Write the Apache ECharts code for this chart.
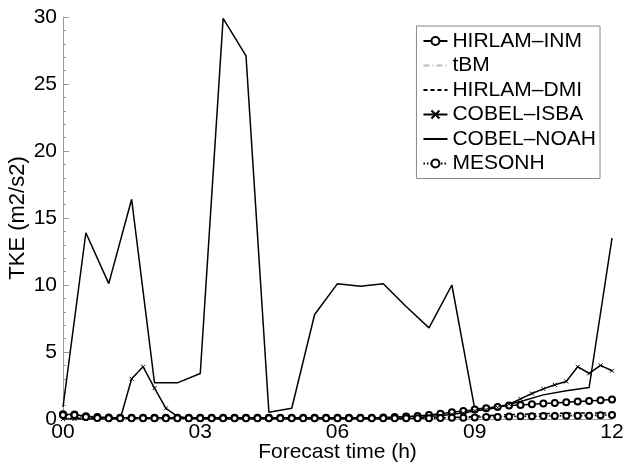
<!DOCTYPE html>
<html>
<head>
<meta charset="utf-8">
<script src="https://cdn.jsdelivr.net/npm/echarts@6/dist/echarts.min.js"></script>
<style>
  html, body { margin: 0; padding: 0; background: #fff; }
  #tke { width: 623px; height: 465px; }
</style>
</head>
<body>
<div id="tke"></div>
<script>
// forecast times (h), every 15 min and every 30 min
var tQuarter = [0, 0.25, 0.5, 0.75, 1, 1.25, 1.5, 1.75, 2, 2.25, 2.5, 2.75, 3, 3.25, 3.5, 3.75,
  4, 4.25, 4.5, 4.75, 5, 5.25, 5.5, 5.75, 6, 6.25, 6.5, 6.75, 7, 7.25, 7.5, 7.75,
  8, 8.25, 8.5, 8.75, 9, 9.25, 9.5, 9.75, 10, 10.25, 10.5, 10.75, 11, 11.25, 11.5, 11.75, 12];
var tHalf = [0, 0.5, 1, 1.5, 2, 2.5, 3, 3.5, 4, 4.5, 5, 5.5, 6, 6.5, 7, 7.5, 8, 8.5, 9, 9.5, 10, 10.5, 11, 11.5, 12];

var xTicks = ['00', '03', '06', '09', '12'];

// TKE values (m2/s2)
var hirlamInm = [0.35, 0.33, 0.2, 0.15, 0.12, 0.1, 0.1, 0.1, 0.1, 0.1, 0.1, 0.1, 0.1, 0.1, 0.1, 0.1,
  0.1, 0.1, 0.1, 0.1, 0.1, 0.1, 0.1, 0.1, 0.1, 0.1, 0.1, 0.1, 0.12, 0.15, 0.18, 0.22,
  0.3, 0.4, 0.5, 0.6, 0.7, 0.8, 0.9, 1.0, 1.05, 1.1, 1.15, 1.2, 1.25, 1.3, 1.35, 1.4, 1.45];
var tbm = [0.1, 0.1, 0.08, 0.06, 0.05, 0.05, 0.05, 0.05, 0.05, 0.05, 0.05, 0.05, 0.05, 0.05, 0.05, 0.05,
  0.05, 0.05, 0.05, 0.05, 0.05, 0.05, 0.05, 0.05, 0.05, 0.05, 0.05, 0.05, 0.05, 0.05, 0.05, 0.05,
  0.06, 0.08, 0.1, 0.12, 0.15, 0.18, 0.2, 0.22, 0.25, 0.27, 0.28, 0.3, 0.3, 0.32, 0.33, 0.34, 0.35];
var hirlamDmi = [0.05, 0.05, 0.05, 0.05, 0.05, 0.05, 0.05, 0.05, 0.05, 0.05, 0.05, 0.05, 0.05, 0.05, 0.05, 0.05,
  0.05, 0.05, 0.05, 0.05, 0.05, 0.05, 0.05, 0.05, 0.05, 0.05, 0.05, 0.05, 0.05, 0.05, 0.05, 0.05,
  0.08, 0.1, 0.12, 0.15, 0.2, 0.25, 0.3, 0.32, 0.35, 0.38, 0.4, 0.42, 0.43, 0.44, 0.45, 0.45, 0.45];
var cobelIsba = [0, 0, 0, 0, 0, 0, 3.0, 3.9, 2.3, 0.8, 0.2, 0.05, 0, 0, 0, 0,
  0, 0, 0, 0, 0, 0, 0, 0, 0, 0, 0, 0, 0, 0, 0, 0.1,
  0.2, 0.25, 0.35, 0.45, 0.6, 0.7, 0.85, 1.1, 1.5, 1.9, 2.25, 2.55, 2.8, 3.9, 3.4, 4.0, 3.6];
var cobelNoah = [0.9, 13.9, 10.1, 16.4, 2.7, 2.7, 3.4, 29.9, 27.1, 0.5, 0.8, 7.8, 10.1,
  9.9, 10.1, 8.4, 6.8, 10.0, 0.75, 0.9, 1.3, 1.8, 2.1, 2.35, 13.5];
var mesonh = [0.3, 0.3, 0.15, 0.08, 0.05, 0.05, 0.05, 0.05, 0.05, 0.05, 0.05, 0.05, 0.05, 0.05, 0.05, 0.05,
  0.05, 0.05, 0.05, 0.05, 0.05, 0.05, 0.05, 0.05, 0.05, 0.05, 0.05, 0.05, 0.05, 0.05, 0.05, 0.05,
  0.06, 0.08, 0.1, 0.1, 0.12, 0.15, 0.15, 0.18, 0.2, 0.2, 0.22, 0.22, 0.25, 0.25, 0.25, 0.28, 0.3];

function pairs(ts, vs) {
  return ts.map(function (t, i) { return [t, vs[i]]; });
}

var crossPath = 'path://M0,0L10,10M10,0L0,10';
var fontName = 'Liberation Sans, Arial, sans-serif';
// legend entries of lines drawn without markers: hide the marker in the key
var noMark = { color: 'rgba(0,0,0,0)', borderWidth: 0 };

var mychart = echarts.init(document.getElementById('tke'));

option = {
  backgroundColor: '#fff',
  animation: false,
  textStyle: { fontFamily: fontName, color: '#000' },
  grid: { left: 63, right: 11, top: 17, bottom: 46, outerBoundsMode: 'none', containLabel: false },
  legend: {
    orient: 'vertical',
    right: 23,
    top: 26,
    padding: [4, 4, 4, 6],
    borderColor: '#888',
    borderWidth: 1,
    backgroundColor: '#fff',
    itemWidth: 24,
    itemHeight: 10,
    itemGap: 2.5,
    data: [
      { name: 'HIRLAM–INM' },
      { name: 'tBM', itemStyle: noMark },
      { name: 'HIRLAM–DMI', itemStyle: noMark },
      { name: 'COBEL–ISBA' },
      { name: 'COBEL–NOAH', itemStyle: noMark },
      { name: 'MESONH' }
    ],
    textStyle: { fontSize: 21, lineHeight: 22, color: '#000', fontFamily: fontName }
  },
  xAxis: {
    type: 'value',
    min: 0,
    max: 12,
    interval: 3,
    name: 'Forecast time (h)',
    nameLocation: 'middle',
    nameGap: 23,
    nameMoveOverlap: false,
    nameTextStyle: { fontSize: 21, color: '#000' },
    axisLine: { lineStyle: { color: '#999' } },
    axisTick: { show: false },
    splitLine: { show: false },
    axisLabel: {
      fontSize: 21,
      color: '#000',
      margin: 3,
      formatter: function (v) { return xTicks[v / 3]; }
    }
  },
  yAxis: {
    type: 'value',
    min: 0,
    max: 30,
    interval: 5,
    name: 'TKE (m2/s2)',
    nameLocation: 'middle',
    nameGap: 34,
    nameMoveOverlap: false,
    nameTextStyle: { fontSize: 22, color: '#000' },
    axisLine: { show: true, lineStyle: { color: '#999' } },
    axisTick: { show: true, inside: true, length: 6, lineStyle: { color: '#999' } },
    minorTick: { show: true, splitNumber: 5, length: 3, lineStyle: { color: '#999' } },
    splitLine: { show: false },
    axisLabel: { fontSize: 21, color: '#000', margin: 6 }
  },
  series: [
    {
      name: 'HIRLAM–INM', type: 'line',
      data: pairs(tQuarter, hirlamInm),
      symbol: 'emptyCircle', symbolSize: 6,
      lineStyle: { color: '#000', width: 1.5 },
      itemStyle: { color: '#000', borderWidth: 1.8 },
      z: 3
    },
    {
      name: 'tBM', type: 'line',
      data: pairs(tQuarter, tbm),
      symbol: 'none',
      lineStyle: { color: '#bbb', width: 1, type: [6, 3, 1, 3] },
      itemStyle: { color: '#bbb' },
      z: 2
    },
    {
      name: 'HIRLAM–DMI', type: 'line',
      data: pairs(tQuarter, hirlamDmi),
      symbol: 'none',
      lineStyle: { color: '#000', width: 1.5, type: [4, 3] },
      itemStyle: { color: '#000' },
      z: 2
    },
    {
      name: 'COBEL–ISBA', type: 'line',
      data: pairs(tQuarter, cobelIsba),
      symbol: crossPath, symbolSize: 4,
      lineStyle: { color: '#000', width: 1.5 },
      itemStyle: { color: '#000', borderColor: '#000', borderWidth: 1 },
      z: 3
    },
    {
      name: 'COBEL–NOAH', type: 'line',
      data: pairs(tHalf, cobelNoah),
      symbol: 'none',
      lineStyle: { color: '#000', width: 1.5 },
      itemStyle: { color: '#000' },
      z: 3
    },
    {
      name: 'MESONH', type: 'line',
      data: pairs(tQuarter, mesonh),
      symbol: 'emptyCircle', symbolSize: 6,
      lineStyle: { color: '#000', width: 1.5, type: [1.5, 2] },
      itemStyle: { color: '#000', borderWidth: 1.8 },
      z: 3
    }
  ]
};
mychart.setOption(option, true);
</script>
</body>
</html>
